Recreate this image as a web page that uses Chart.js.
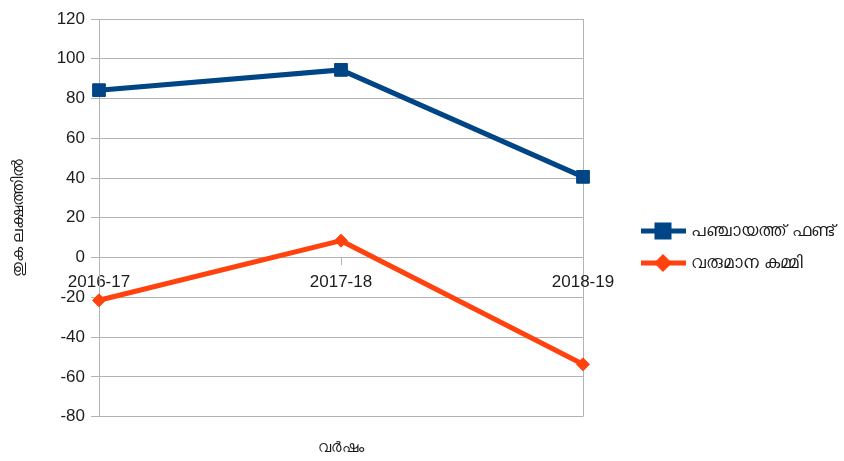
<!DOCTYPE html>
<html>
<head>
<meta charset="utf-8">
<script src="https://cdn.jsdelivr.net/npm/chart.js@4/dist/chart.umd.min.js"></script>
<style>
    html, body { margin: 0; padding: 0; background: #ffffff; }
    #wrap { width: 844px; height: 461px; }
</style>
</head>
<body>
<div id="wrap"><canvas id="lineCtx"></canvas></div>
<script>
const categories = ['2016-17', '2017-18', '2018-19'];
const fundValues = [84.2, 94.4, 40.6];
const deficitValues = [-21.5, 8.5, -53.7];
const seriesNames = ['പഞ്ചായത്ത് ഫണ്ട്', 'വരുമാന കമ്മി'];
const yTitle = 'തുക ലക്ഷത്തിൽ';
const xTitle = 'വർഷം';

const FONT = "'Liberation Sans', 'Noto Sans', sans-serif";
const TEXT = '#1c1c1c';
const GRID = '#b3b3b3';

// legend drawn by hand so it can sit apart from the plot like the original
const sideLegend = {
    id: 'sideLegend',
    afterDraw(chart) {
        const ctx = chart.ctx;
        ctx.save();
        chart.data.datasets.forEach((ds, i) => {
            const y = 231 + i * 32;
            ctx.strokeStyle = ds.borderColor;
            ctx.lineWidth = 5;
            ctx.beginPath();
            ctx.moveTo(641, y);
            ctx.lineTo(686, y);
            ctx.stroke();
            Chart.helpers.drawPoint(ctx, {
                pointStyle: ds.pointStyle,
                radius: ds.pointStyle === 'rect' ? 8.5 : 5.5,
                rotation: 0,
                borderWidth: 1
            }, 663, y);
            ctx.fillStyle = ds.borderColor;
            ctx.fill();
            ctx.fillStyle = TEXT;
            ctx.font = '16.5px ' + FONT;
            ctx.textBaseline = 'middle';
            ctx.textAlign = 'left';
            ctx.fillText(ds.label, 691, y);
        });
        ctx.restore();
    }
};

new Chart(document.getElementById('lineCtx'), {
    type: 'line',
    data: {
        labels: categories,
        datasets: [{
            label: seriesNames[0],
            data: fundValues,
            borderColor: '#004586',
            backgroundColor: '#004586',
            borderWidth: 5,
            pointStyle: 'rect',
            pointRadius: 9,
            pointBorderWidth: 1,
            tension: 0
        },
        {
            label: seriesNames[1],
            data: deficitValues,
            borderColor: '#ff420e',
            backgroundColor: '#ff420e',
            borderWidth: 5,
            pointStyle: 'rectRot',
            pointRadius: 6.5,
            pointBorderWidth: 1,
            tension: 0
        }]
    },
    plugins: [sideLegend],
    options: {
        responsive: true,
        maintainAspectRatio: false,
        animation: false,
        layout: { padding: { top: 19, right: 261, left: 0, bottom: 0 } },
        plugins: {
            legend: { display: false },
            tooltip: { enabled: false },
            title: {
                display: true,
                text: xTitle,
                position: 'bottom',
                fullSize: false,
                color: TEXT,
                font: { family: FONT, size: 14.5, weight: 'normal' },
                padding: { top: 23, bottom: 4 }
            }
        },
        scales: {
            x: {
                position: { y: 0 },
                offset: false,
                grid: {
                    color: c => c.index === 1 ? 'rgba(0,0,0,0)' : GRID,
                    tickColor: GRID,
                    tickLength: 7,
                    lineWidth: 1
                },
                border: { display: true, color: GRID },
                ticks: {
                    color: TEXT,
                    padding: 8,
                    maxRotation: 0,
                    font: { family: FONT, size: 17 }
                }
            },
            y: {
                min: -80,
                max: 120,
                afterFit: s => { s.width = 99; },
                grid: { color: GRID, tickLength: 8 },
                border: { display: true, color: GRID },
                ticks: {
                    stepSize: 20,
                    color: TEXT,
                    padding: 6,
                    font: { family: FONT, size: 17 }
                },
                title: {
                    display: true,
                    text: yTitle,
                    color: TEXT,
                    font: { family: FONT, size: 15.5 },
                    padding: { top: 9, bottom: 0 }
                }
            }
        }
    }
});
</script>
</body>
</html>
